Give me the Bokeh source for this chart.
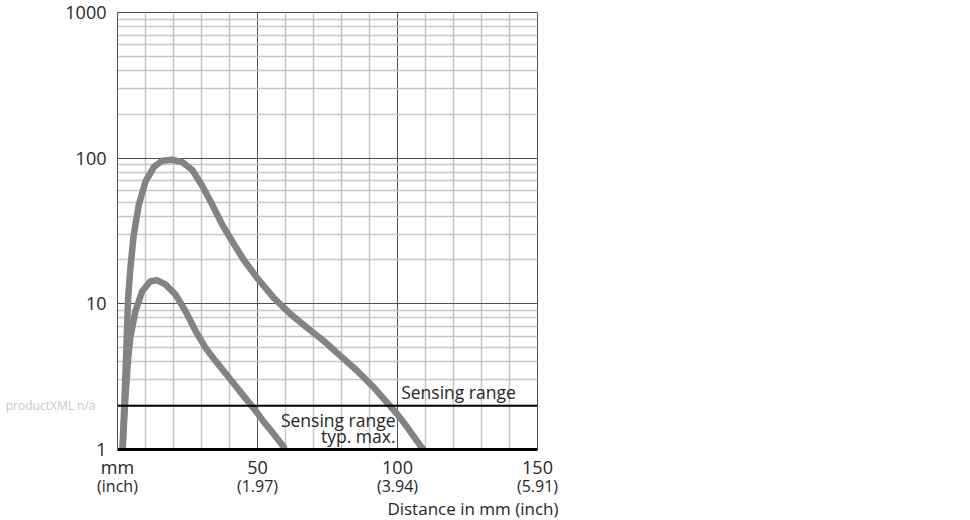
from bokeh.plotting import figure
from bokeh.models import (FixedTicker, LinearAxis, LogAxis, Span, Label, Range1d, Title)
from bokeh.embed import file_html
from bokeh.resources import INLINE

# ---- data ----
upper_x = [1.8, 2.9, 3.8, 4.6, 5.8, 7.6, 10.0, 13.0, 16.0, 19.5, 23.1, 26.7, 30.2,
           33.8, 37.4, 41.0, 45.1, 49.9, 55.8, 61.8, 67.7, 73.7, 79.6, 85.6, 91.5,
           96.3, 99.9, 103.5, 108.2, 109.3]
upper_y = [1.0, 3.5, 11.0, 17.6, 29.8, 47.8, 69.0, 87.0, 96.0, 97.5, 94.0, 83.0, 65.0,
           48.0, 35.0, 26.8, 20.0, 15.0, 11.0, 8.5, 6.86, 5.56, 4.39, 3.47, 2.67,
           2.1, 1.75, 1.42, 1.06, 1.0]

lower_x = [1.8, 2.9, 3.8, 4.6, 6.4, 8.8, 11.8, 14.2, 17.1, 20.7, 24.3, 27.9, 31.4,
           35.0, 39.8, 44.5, 49.3, 52.3, 55.5, 59.4]
lower_y = [1.0, 2.4, 4.2, 5.9, 8.9, 12.2, 14.3, 14.5, 13.6, 11.6, 8.9, 6.5, 5.0,
           4.06, 3.12, 2.4, 1.85, 1.54, 1.3, 1.04]

sensing_threshold = 2

x_ticks = [0, 50, 100, 150]
x_tick_mm = ["mm", "50", "100", "150"]
x_tick_inch = ["(inch)", "(1.97)", "(3.94)", "(5.91)"]
x_minor = [10, 20, 30, 40, 60, 70, 80, 90, 110, 120, 130, 140]
y_ticks = [1, 10, 100, 1000]
y_tick_labels = ["1", "10", "100", "1000"]
y_minor = [m * d for d in (1, 10, 100) for m in range(2, 10)]

FONT = "Open Sans"
TXT = "#262626"
CURVE = "#838383"

p = figure(width=600, height=520, y_axis_type="log",
           x_range=Range1d(0, 150), y_range=Range1d(1, 1000),
           output_backend="svg", toolbar_location=None,
           min_border_left=117, min_border_top=12, min_border_right=63,
           min_border_bottom=71, background_fill_color="white")
p.outline_line_color = "#505050"
p.outline_line_width = 1

# grids
p.xgrid.ticker = FixedTicker(ticks=x_ticks, minor_ticks=x_minor)
p.ygrid.ticker = FixedTicker(ticks=y_ticks, minor_ticks=y_minor)
for g in (p.xgrid, p.ygrid):
    g.grid_line_color = "#505050"
    g.grid_line_width = 1
    g.minor_grid_line_color = "#c6c6c6"
    g.minor_grid_line_width = 1.5


def bare(ax):
    ax.major_tick_line_color = None
    ax.minor_tick_line_color = None
    ax.major_tick_out = 0
    ax.major_tick_in = 0
    ax.minor_tick_out = 0
    ax.minor_tick_in = 0


# y axis
ya = p.yaxis[0]
ya.ticker = FixedTicker(ticks=y_ticks)
ya.major_label_overrides = {t: s for t, s in zip(y_ticks, y_tick_labels)}
bare(ya)
ya.axis_line_color = "#505050"
ya.major_label_text_font = FONT
ya.major_label_text_font_size = "18px"
ya.major_label_text_color = TXT
ya.major_label_standoff = 11

# watermark on a secondary left axis
wa = LogAxis(ticker=FixedTicker(ticks=[sensing_threshold]),
             major_label_overrides={sensing_threshold: "productXML n/a"})
bare(wa)
wa.axis_line_color = None
wa.major_label_text_font = FONT
wa.major_label_text_font_size = "12px"
wa.major_label_text_color = "#c8c8c8"
wa.major_label_standoff = -33
p.add_layout(wa, "left")

# x axis (mm)
xa = p.xaxis[0]
xa.ticker = FixedTicker(ticks=x_ticks)
xa.major_label_overrides = {t: s for t, s in zip(x_ticks, x_tick_mm)}
bare(xa)
xa.axis_line_color = "black"
xa.axis_line_width = 3
xa.major_label_text_font = FONT
xa.major_label_text_font_size = "18px"
xa.major_label_text_color = TXT
xa.major_label_standoff = 5

# x axis (inch)
xa2 = LinearAxis(ticker=FixedTicker(ticks=x_ticks),
                 major_label_overrides={t: s for t, s in zip(x_ticks, x_tick_inch)})
bare(xa2)
xa2.axis_line_color = None
xa2.major_label_text_font = FONT
xa2.major_label_text_font_size = "16px"
xa2.major_label_text_color = TXT
xa2.major_label_standoff = -7
p.add_layout(xa2, "below")

# axis title, right aligned
p.add_layout(Title(text="Distance in mm (inch)", align="right", offset=-21,
                   text_font=FONT, text_font_size="17px",
                   text_font_style="normal", text_color=TXT, standoff=-9),
             "below")

# curves
p.line(upper_x, upper_y, line_color=CURVE, line_width=6.5,
       line_join="round", line_cap="round")
p.line(lower_x, lower_y, line_color=CURVE, line_width=6.5,
       line_join="round", line_cap="round")

# sensing range threshold
p.add_layout(Span(location=sensing_threshold, dimension="width",
                  line_color="black", line_width=2))

# texts in the plot
p.add_layout(Label(x=101.3, y=sensing_threshold, y_offset=2, text="Sensing range",
                   text_font=FONT, text_font_size="17.5px", text_color=TXT,
                   text_baseline="bottom", text_align="left"))
p.add_layout(Label(x=99.3, y=sensing_threshold, y_offset=-14, text="Sensing range",
                   text_font=FONT, text_font_size="17.5px", text_color=TXT,
                   text_baseline="middle", text_align="right"))
p.add_layout(Label(x=99.3, y=sensing_threshold, y_offset=-30, text="typ. max.",
                   text_font=FONT, text_font_size="17.5px", text_color=TXT,
                   text_baseline="middle", text_align="right"))

open("out.html", "w").write(file_html(p, INLINE))
